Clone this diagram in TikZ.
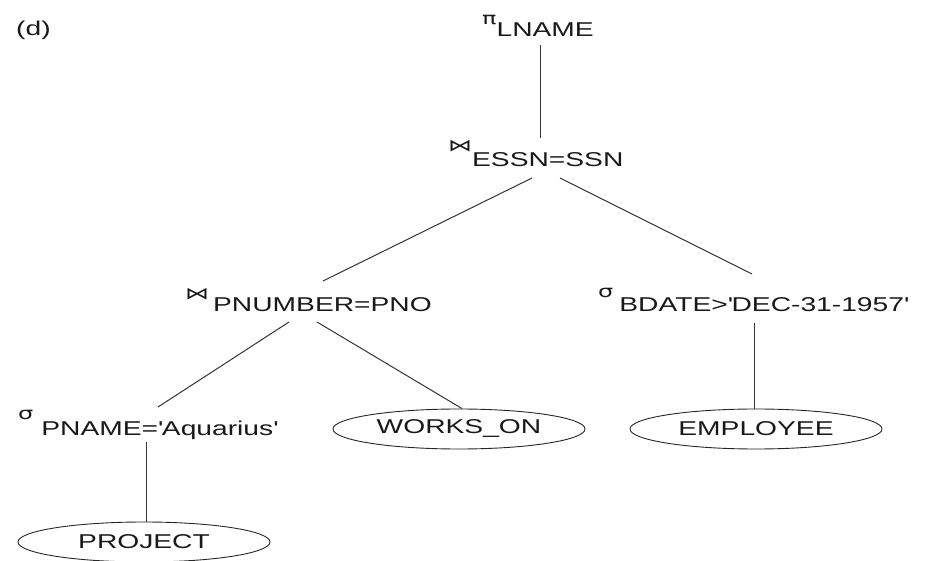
\documentclass[tikz,border=0pt]{standalone}
\usepackage{fontspec}
\setmainfont[FakeStretch=1.41]{Liberation Sans}
\newfontfamily\symf[FakeStretch=1.41]{DejaVu Sans}
\usetikzlibrary{shapes.geometric}
\newcommand{\opsym}[3]{\raisebox{#2pt}{\symf\fontsize{17}{17}\selectfont #1}\hspace*{#3pt}}
\newcommand{\q}{\textquotesingle}
\begin{document}
\begin{tikzpicture}[x=1pt,y=-1pt,
  lab/.style={inner sep=0pt,anchor=base west,font=\fontsize{20}{24}\selectfont,text=black!90},
  rel/.style={draw=black!85,line width=0.9pt,ellipse,minimum width=252pt,minimum height=40pt,inner sep=0pt,font=\fontsize{20}{24}\selectfont,text=black!90},
  edge/.style={draw=black!80,line width=1pt}]
\useasboundingbox (0,0) rectangle (932,561);
\node[lab] (d) at (16,36) {(d)};
\node[lab] (lname) at (482,37) {\opsym{π}{12}{0}LNAME};
\node[lab] (essn) at (448,167) {\opsym{⋈}{15}{0}ESSN=SSN};
\node[lab] (pnum) at (185,312) {\opsym{⋈}{12}{4}PNUMBER=PNO};
\node[lab] (bdate) at (598,312) {\opsym{σ}{14}{6}BDATE>\q DEC-31-1957\q};
\node[lab] (pname) at (18,435) {\opsym{σ}{16}{8}PNAME=\q Aquarius\q};
\node[rel] (works) at (459,429) {WORKS\_ON};
\node[rel] (employee) at (756,429) {EMPLOYEE};
\node[rel] (project) at (144,542) {PROJECT};
\draw[edge] ([shift={(58,8)}]lname.base west) -- ([shift={(92,-29)}]essn.base west);
\draw[edge] ([shift={(84,11)}]essn.base west) -- ([shift={(138,-31)}]pnum.base west);
\draw[edge] ([shift={(112,11)}]essn.base west) -- ([shift={(154,-38)}]bdate.base west);
\draw[edge] ([shift={(104,10)}]pnum.base west) -- ([shift={(140,-28)}]pname.base west);
\draw[edge] ([shift={(132,10)}]pnum.base west) -- ([xshift=3pt]works.north);
\draw[edge] ([shift={(156,11)}]bdate.base west) -- ([xshift=-2pt]employee.north);
\draw[edge] ([shift={(128,7)}]pname.base west) -- ([xshift=2pt]project.north);
\end{tikzpicture}
\end{document}
